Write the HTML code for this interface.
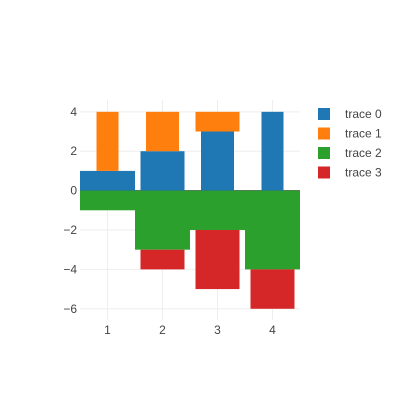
<!DOCTYPE html>
<html><head><meta charset="utf-8"><style>
body{margin:0;background:#fff;}
svg{font-family:"Liberation Sans",sans-serif;}
</style></head><body>
<svg id="chart" width="400" height="400">
<g id="grid"></g><g id="bars"></g><g id="axes"></g><g id="legend"></g>
</svg>
<script>
const categories = [1, 2, 3, 4];
const trace0 = [1, 2, 3, 4];
const trace1 = [3, 2, 1, 0];
const trace2 = [-1, -3, -2, -4];
const trace3 = [0, -1, -3, -2];
const width0 = [1, 0.8, 0.6, 0.4];
const width1 = [0.4, 0.6, 0.8, 1];
const width2 = [1, 1, 1, 1];
const width3 = [0.8, 0.8, 0.8, 0.8];
const traceNames = ["trace 0", "trace 1", "trace 2", "trace 3"];
const yTicks = [4, 2, 0, -2, -4, -6];

const colors = ["#1f77b4", "#ff7f0e", "#2ca02c", "#d62728"];
const L = 80, R = 300, T = 100, B = 320;
const xMin = 0.5, xMax = 4.5, yMin = -6.57, yMax = 4.6;
const xs = v => L + (v - xMin) / (xMax - xMin) * (R - L);
const ys = v => T + (yMax - v) / (yMax - yMin) * (B - T);
const NS = "http://www.w3.org/2000/svg";
function mk(tag, parent, attrs) {
  const e = document.createElementNS(NS, tag);
  for (const k in attrs) e.setAttribute(k, attrs[k]);
  parent.appendChild(e);
  return e;
}
const grid = document.getElementById("grid"), bars = document.getElementById("bars"),
      axes = document.getElementById("axes"), legend = document.getElementById("legend");
categories.forEach(c => {
  const l = mk("line", grid, {x1: xs(c), x2: xs(c), y1: T, y2: B, stroke: "#eee"});
  
  
  const t = mk("text", axes, {x: xs(c), y: B + 14, "text-anchor": "middle", "font-size": 12, fill: "#444"});
  t.textContent = c;
  
  
});
yTicks.forEach(v => {
  const l = mk("line", grid, {x1: L, x2: R, y1: ys(v), y2: ys(v), stroke: v === 0 ? "#444" : "#eee"});
  
  
  const t = mk("text", axes, {x: L - 3, y: ys(v) + 4, "text-anchor": "end", "font-size": 12, fill: "#444"});
  t.textContent = v < 0 ? "\u2212" + (-v) : v;
  
  
});
const series = [trace0, trace1, trace2, trace3];
const widths = [width0, width1, width2, width3];
const pos = categories.map(() => 0), neg = categories.map(() => 0);
series.forEach((s, si) => {
  s.forEach((v, i) => {
    if (v === 0) return;
    let y0, y1;
    if (v > 0) { y0 = pos[i]; y1 = pos[i] + v; pos[i] = y1; }
    else { y0 = neg[i]; y1 = neg[i] + v; neg[i] = y1; }
    const w = widths[si][i], c = categories[i];
    const x0p = xs(c - w / 2), x1p = xs(c + w / 2);
    const top = Math.min(ys(y0), ys(y1)), bot = Math.max(ys(y0), ys(y1));
    const r = mk("rect", bars, {x: x0p, y: top, width: x1p - x0p, height: bot - top, fill: colors[si]});
    
    
  });
});
traceNames.forEach((n, i) => {
  const g = mk("g", legend, {});
  
  
  const y = 114 + i * 19.5;
  mk("rect", g, {x: 318, y: y - 6, width: 12, height: 12, fill: colors[i]});
  const t = mk("text", g, {x: 345, y: y + 4, "font-size": 12, fill: "#444"});
  t.textContent = n;
});
</script>
</body></html>
